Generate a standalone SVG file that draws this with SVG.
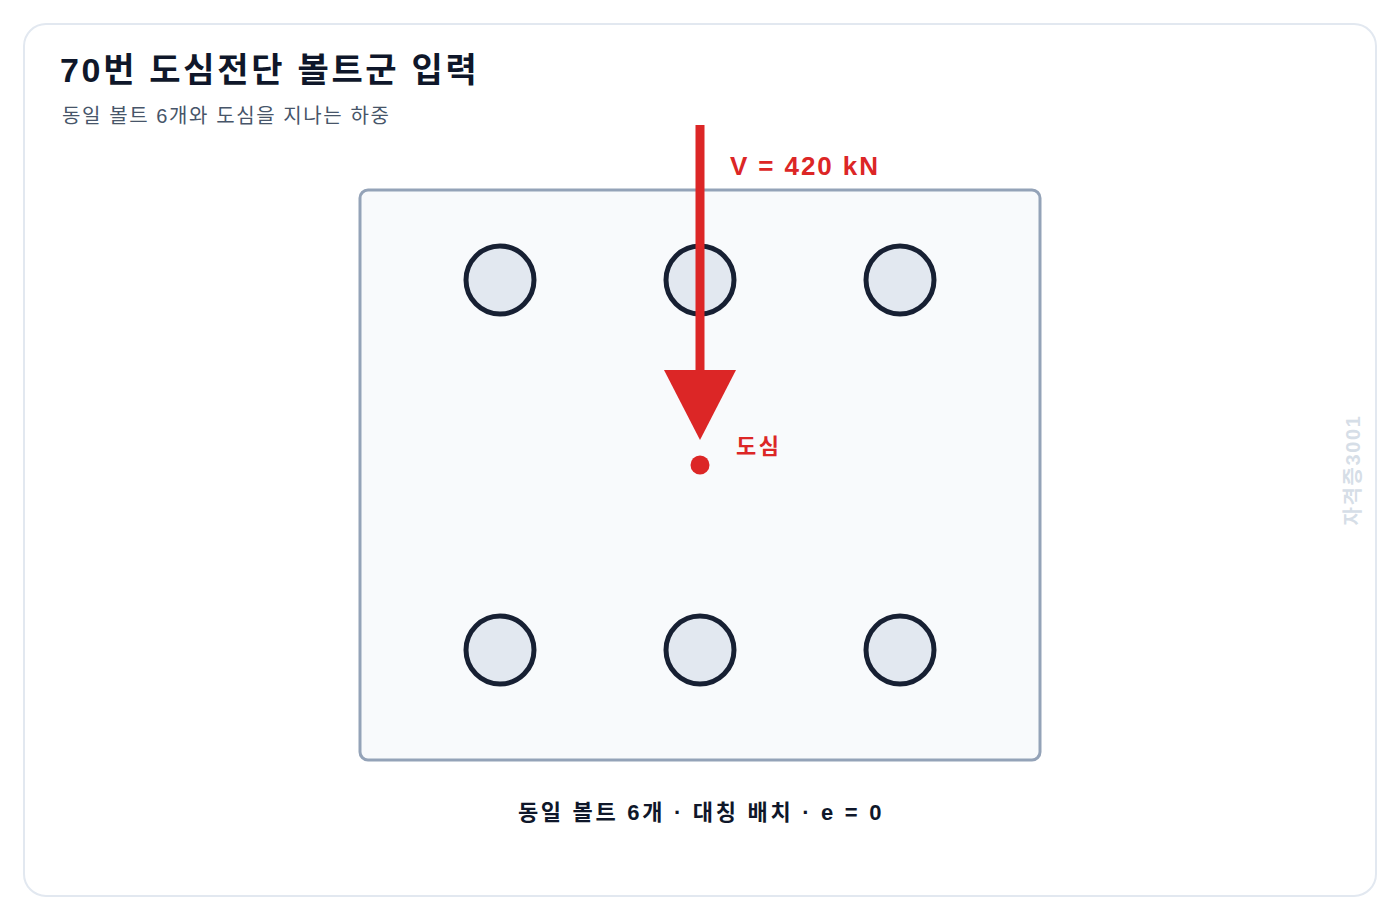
<svg xmlns="http://www.w3.org/2000/svg" width="1400" height="920" viewBox="0 0 1400 920">
<style>
.t{font-family:"Liberation Sans","Noto Sans CJK KR",sans-serif}
.bolt{fill:#e2e8f0;stroke:#172033;stroke-width:5}
.red{fill:#dc2626}
</style>
<rect x="0" y="0" width="1400" height="920" fill="#ffffff"/>
<rect x="24" y="24" width="1352" height="872" rx="22" fill="#ffffff" stroke="#e2e8f0" stroke-width="2"/>
<text class="t" x="60" y="82" font-size="34" font-weight="700" fill="#0f172a" letter-spacing="2.7">70번 도심전단 볼트군 입력</text>
<text class="t" x="62" y="123" font-size="20" fill="#475569" letter-spacing="1.6">동일 볼트 6개와 도심을 지나는 하중</text>
<g id="plate"><rect x="360" y="190" width="680" height="570" rx="8" fill="#f8fafc" stroke="#94a3b8" stroke-width="3"/></g>
<g id="bolt1"><circle class="bolt" cx="500" cy="280" r="34"/></g>
<g id="bolt2"><circle class="bolt" cx="700" cy="280" r="34"/></g>
<g id="bolt3"><circle class="bolt" cx="900" cy="280" r="34"/></g>
<g id="bolt4"><circle class="bolt" cx="500" cy="650" r="34"/></g>
<g id="bolt5"><circle class="bolt" cx="700" cy="650" r="34"/></g>
<g id="bolt6"><circle class="bolt" cx="900" cy="650" r="34"/></g>
<g id="connectors">
<line x1="700" y1="125" x2="700" y2="374" stroke="#dc2626" stroke-width="9"/>
<polygon class="red" points="664,370 736,370 700,440"/>
</g>
<text class="t" x="730" y="175" font-size="26" font-weight="700" fill="#dc2626" letter-spacing="1.9">V = 420 kN</text>
<g id="centroid"><circle class="red" cx="700" cy="465" r="9.5"/>
<text class="t" x="736" y="454" font-size="22" font-weight="700" fill="#dc2626" letter-spacing="2.5">도심</text></g>
<text class="t" x="701" y="820" font-size="22" font-weight="700" fill="#0f172a" text-anchor="middle" letter-spacing="2.7">동일 볼트 6개 · 대칭 배치 · e = 0</text>
<text class="t" transform="translate(1360,470) rotate(-90)" font-size="20" font-weight="700" fill="#cbd5e1" fill-opacity="0.8" text-anchor="middle" letter-spacing="1.6">자격증3001</text>
</svg>
